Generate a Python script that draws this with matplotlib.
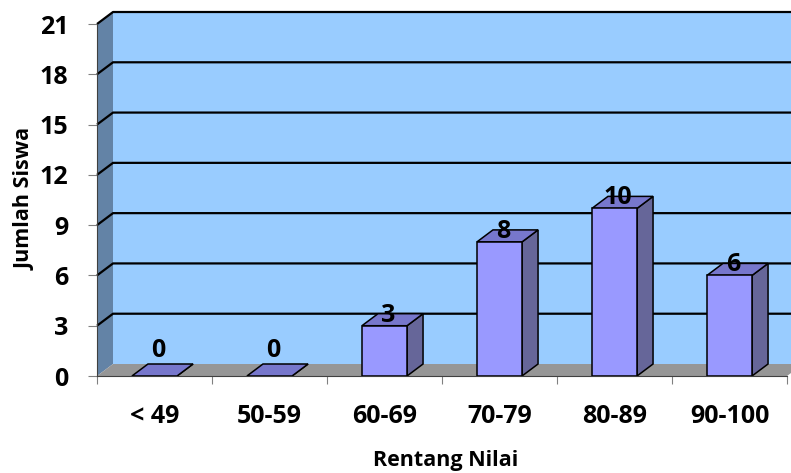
import numpy as np
import matplotlib
matplotlib.use("Agg")
from matplotlib import pyplot as plt
from matplotlib.patches import Polygon

categories = ["< 49", "50-59", "60-69", "70-79", "80-89", "90-100"]
jumlah = [0, 0, 3, 8, 10, 6]
y_ticks = [0, 3, 6, 9, 12, 15, 18, 21]

plt.rcParams['font.family'] = ['Open Sans', 'DejaVu Sans']

W, H = 791, 473
fig = plt.figure(figsize=(W / 100, H / 100), dpi=100)
ax = fig.add_axes([97 / W, 97 / H, 690 / W, 352 / H])
ax.set_xlim(-0.5, 5.5)
ax.set_ylim(0, 21)
ax.patch.set_visible(False)

# 3d depth in data units (about 16 px right, 12 px up)
dx = 16 / 115
dy = 12 / (352 / 21)
x0, x1 = -0.5, 5.5
ytop = y_ticks[-1]


def poly(pts, fc, z, ec='none', lw=0):
    ax.add_patch(Polygon(pts, closed=True, facecolor=fc, edgecolor=ec,
                         linewidth=lw, zorder=z, clip_on=False))


# back wall, side wall, floor
poly([(x0 + dx, dy), (x1 + dx, dy), (x1 + dx, ytop + dy), (x0 + dx, ytop + dy)], '#99CCFF', 1)
poly([(x0, 0), (x0 + dx, dy), (x0 + dx, ytop + dy), (x0, ytop)], '#6383A6', 1)
poly([(x0, 0), (x1, 0), (x1 + dx, dy), (x0 + dx, dy)], '#969696', 3)

# gridlines on back wall and side wall
for v in y_ticks[1:]:
    ax.plot([x0, x0 + dx, x1 + dx], [v, v + dy, v + dy], color='black', lw=1.6,
            zorder=2, clip_on=False, solid_capstyle='butt')

# bars
bw = 0.196
for i, v in enumerate(jumlah):
    l, r = i - bw, i + bw
    poly([(r, 0), (r + dx, dy), (r + dx, v + dy), (r, v)], '#666699', 4, 'black', 1.1)
    poly([(l, v), (r, v), (r + dx, v + dy), (l + dx, v + dy)], '#7777CC', 4, 'black', 1.1)
    if v > 0:
        poly([(l, 0), (r, 0), (r, v), (l, v)], '#9999FF', 4, 'black', 1.1)
    off = 19 if v == 0 else 4
    ax.annotate(str(v), (i + 0.03, v), xytext=(0, off), textcoords='offset pixels',
                ha='center', va='baseline', fontsize=18, fontweight='bold', zorder=6)

# axes
for s in ['top', 'right']:
    ax.spines[s].set_visible(False)
ax.spines['left'].set_color('#404040')
ax.spines['bottom'].set_color('#404040')
ax.spines['left'].set_zorder(5)
ax.spines['bottom'].set_zorder(5)

ax.set_yticks(y_ticks)
ax.set_yticklabels([str(t) for t in y_ticks], fontsize=18, fontweight='bold')
ax.tick_params(axis='y', length=6.5, pad=14, color='#808080')

ax.set_xticks(np.arange(-0.5, 6, 1))
ax.set_xticklabels([])
ax.set_xticks(np.arange(len(categories)), minor=True)
ax.set_xticklabels(categories, minor=True, fontsize=18, fontweight='bold')
ax.tick_params(axis='x', which='major', length=6, color='#808080')
ax.tick_params(axis='x', which='minor', length=0, pad=20)

fig.text(446 / W, 1 - 460 / H, "Rentang Nilai", ha='center', va='center',
         fontsize=15.5, fontweight='bold')
fig.text(25 / W, 1 - 199 / H, "Jumlah Siswa", ha='center', va='center',
         rotation=90, fontsize=15.5, fontweight='bold')

fig.savefig("out.png", dpi=100)
